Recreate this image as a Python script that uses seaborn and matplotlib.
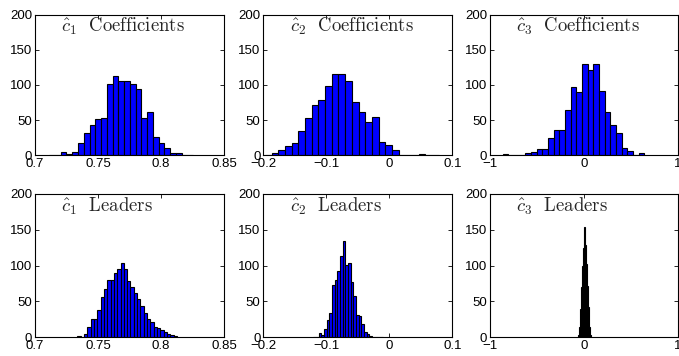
"""
Histograms of estimated coefficients c1..c3 (all runs vs. leaders).
"""

import numpy as np
import pandas as pd
import matplotlib
matplotlib.use("Agg")
import matplotlib.pyplot as plt
import seaborn as sns

sns.set_theme(style="ticks")
plt.rcParams["font.family"] = ["Liberation Sans", "DejaVu Sans"]
plt.rcParams["mathtext.fontset"] = "cm"
plt.rcParams["xtick.direction"] = "in"
plt.rcParams["ytick.direction"] = "in"
plt.rcParams["xtick.top"] = True
plt.rcParams["ytick.right"] = True

# bin counts: (left edge of first bin, bin width, counts)
c1_coef_start, c1_coef_width = 0.7113, 0.004568
c1_coef_counts = [1, 1, 5, 2, 5, 17, 32, 43, 51, 53, 102, 113, 106, 105, 101,
                  95, 53, 61, 26, 17, 10, 3, 3, 0, 1]

c2_coef_start, c2_coef_width = -0.1973, 0.0106
c2_coef_counts = [1, 3, 7, 13, 17, 35, 53, 71, 78, 99, 115, 115, 106, 76, 61,
                  48, 54, 19, 14, 7, 1, 1, 0, 2, 1, 1]

c3_coef_start, c3_coef_width = -0.865, 0.0602
c3_coef_counts = [2, 1, 1, 0, 3, 4, 9, 9, 25, 36, 36, 64, 97, 90, 130, 121,
                  130, 91, 61, 43, 31, 11, 6, 0, 3]

c1_lead_start, c1_lead_width = 0.7337, 0.00263
c1_lead_counts = [2, 1, 5, 14, 26, 25, 38, 56, 67, 80, 80, 89, 95, 104, 95,
                  78, 70, 62, 53, 44, 34, 26, 22, 15, 13, 10, 7, 5, 3, 2]

c2_lead_start, c2_lead_width = -0.1206, 0.00423
c2_lead_counts = [1, 0, 6, 3, 12, 24, 34, 73, 80, 93, 113, 134, 101, 104, 77,
                  57, 31, 29, 18, 8, 5, 2, 1, 1, 1, 1]

c3_lead_start, c3_lead_width = -0.063, 0.0104
c3_lead_counts = [3, 15, 40, 70, 100, 125, 153, 128, 102, 72, 42, 15, 3]

titles = [r"$\hat{c}_1\ \ \mathrm{Coefficients}$",
          r"$\hat{c}_2\ \ \mathrm{Coefficients}$",
          r"$\hat{c}_3\ \ \mathrm{Coefficients}$",
          r"$\hat{c}_1\ \ \mathrm{Leaders}$",
          r"$\hat{c}_2\ \ \mathrm{Leaders}$",
          r"$\hat{c}_3\ \ \mathrm{Leaders}$"]

x_ticks = [[0.7, 0.75, 0.8, 0.85], [-0.2, -0.1, 0, 0.1], [-1, 0, 1]]
x_tick_labels = [["0.7", "0.75", "0.8", "0.85"], ["\u22120.2", "\u22120.1", "0", "0.1"],
                 ["\u22121", "0", "1"]]
y_ticks = [0, 50, 100, 150, 200]

panels = [
    (c1_coef_start, c1_coef_width, c1_coef_counts),
    (c2_coef_start, c2_coef_width, c2_coef_counts),
    (c3_coef_start, c3_coef_width, c3_coef_counts),
    (c1_lead_start, c1_lead_width, c1_lead_counts),
    (c2_lead_start, c2_lead_width, c2_lead_counts),
    (c3_lead_start, c3_lead_width, c3_lead_counts),
]

fig = plt.figure(figsize=(6.79, 3.56), dpi=100)
lefts = [0.0515, 0.3878, 0.7217]
widths = [0.2784, 0.2784, 0.2769]
rows = [(0.5638, 0.3949), (0.0525, 0.4034)]

for i, (start, width, counts) in enumerate(panels):
    r, c = divmod(i, 3)
    ax = fig.add_axes([lefts[c], rows[r][0], widths[c], rows[r][1]])
    edges = start + width * np.arange(len(counts) + 1)
    df = pd.DataFrame({"x": (edges[:-1] + edges[1:]) / 2, "n": counts})
    sns.histplot(data=df, x="x", weights="n", bins=edges.tolist(), color="#0000ff",
                 edgecolor="black", linewidth=0.8, alpha=1, ax=ax)
    ax.set_xlim(x_ticks[c][0], x_ticks[c][-1])
    ax.set_ylim(0, 200)
    ax.set_xticks(x_ticks[c])
    ax.set_xticklabels(x_tick_labels[c])
    ax.set_yticks(y_ticks)
    ax.set_ylabel("")
    ax.set_xlabel("")
    ax.tick_params(labelsize=9.5, length=3, width=0.6, pad=2, colors="black")
    for s in ax.spines.values():
        s.set_linewidth(0.8)
        s.set_color("black")
    ax.text(0.14, 0.915, titles[i], transform=ax.transAxes, ha="left",
            va="center", fontsize=13.5)

fig.savefig("out.png", dpi=100)
